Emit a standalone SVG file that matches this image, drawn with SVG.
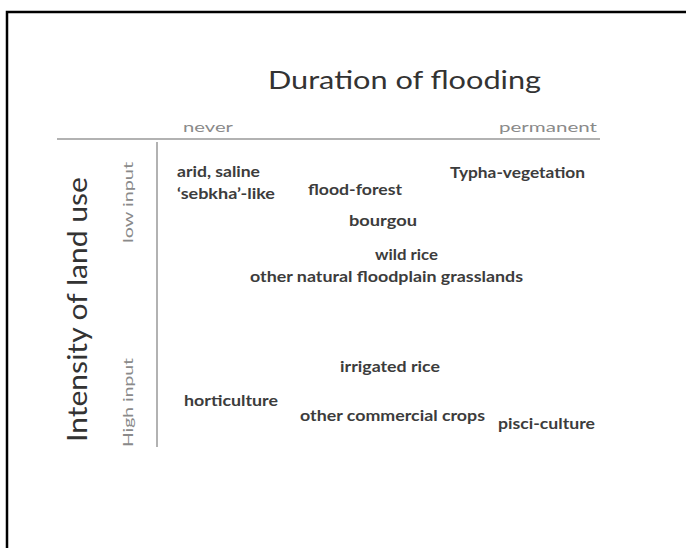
<svg xmlns="http://www.w3.org/2000/svg" width="686" height="548" viewBox="0 0 686 548">
<style>
.title{font-family:Lato,"Open Sans","Liberation Sans",sans-serif;font-size:25px;fill:#333}
.axis{font-family:Lato,"Open Sans","Liberation Sans",sans-serif;font-size:14px;fill:#8a8a8a}
.vtitle{font-family:Lato,"Open Sans","Liberation Sans",sans-serif;font-size:27px;fill:#333}
.lbl{font-family:Lato,"Open Sans","Liberation Sans",sans-serif;font-size:15px;font-weight:bold;fill:#3c3c3c}
.grid{stroke:#999;stroke-width:1.5;fill:none}
</style>
<rect x="0" y="0" width="686" height="548" fill="#fff"/>
<path d="M7,548 V12 H686" fill="none" stroke="#000" stroke-width="2.5"/>
<g id="axes">
<line class="grid" x1="57" y1="139" x2="600" y2="139"/>
<line class="grid" x1="157" y1="142" x2="157" y2="447"/>
</g>
<text id="title" class="title" x="268" y="89" textLength="273" lengthAdjust="spacingAndGlyphs">Duration of flooding</text>
<text class="axis" x="183" y="132" textLength="50" lengthAdjust="spacingAndGlyphs">never</text>
<text class="axis" x="499" y="132" textLength="98" lengthAdjust="spacingAndGlyphs">permanent</text>
<text class="vtitle" transform="translate(87,442) rotate(-90)" textLength="265" lengthAdjust="spacingAndGlyphs">Intensity of land use</text>
<text class="axis" transform="translate(133,243) rotate(-90)" textLength="81" lengthAdjust="spacingAndGlyphs">low input</text>
<text class="axis" transform="translate(133,447) rotate(-90)" textLength="89" lengthAdjust="spacingAndGlyphs">High input</text>
<g id="arid">
<text class="lbl" x="177" y="177" textLength="83" lengthAdjust="spacingAndGlyphs">arid, saline</text>
<text class="lbl" x="177" y="199" textLength="98" lengthAdjust="spacingAndGlyphs">‘sebkha’-like</text>
</g>
<g id="flood-forest"><text class="lbl" x="308" y="195" textLength="94" lengthAdjust="spacingAndGlyphs">flood-forest</text></g>
<g id="typha"><text class="lbl" x="450" y="178" textLength="135" lengthAdjust="spacingAndGlyphs">Typha-vegetation</text></g>
<g id="bourgou"><text class="lbl" x="349" y="226" textLength="68" lengthAdjust="spacingAndGlyphs">bourgou</text></g>
<g id="wild-rice"><text class="lbl" x="375" y="260" textLength="63" lengthAdjust="spacingAndGlyphs">wild rice</text></g>
<g id="grasslands"><text class="lbl" x="250" y="282" textLength="273" lengthAdjust="spacingAndGlyphs">other natural floodplain grasslands</text></g>
<g id="irrigated-rice"><text class="lbl" x="340" y="372" textLength="100" lengthAdjust="spacingAndGlyphs">irrigated rice</text></g>
<g id="horticulture"><text class="lbl" x="184" y="406" textLength="94" lengthAdjust="spacingAndGlyphs">horticulture</text></g>
<g id="commercial"><text class="lbl" x="300" y="421" textLength="185" lengthAdjust="spacingAndGlyphs">other commercial crops</text></g>
<g id="pisci"><text class="lbl" x="498" y="429" textLength="97" lengthAdjust="spacingAndGlyphs">pisci-culture</text></g>
</svg>
